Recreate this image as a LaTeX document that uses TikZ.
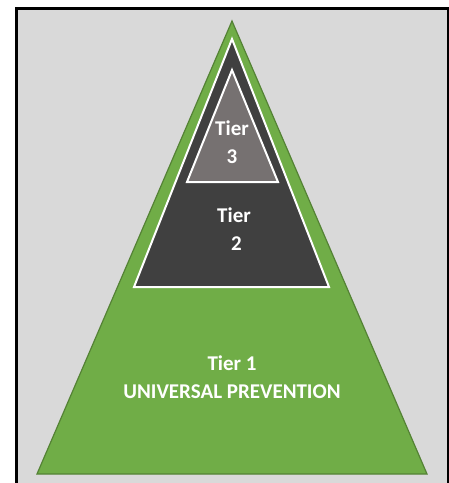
\documentclass[tikz,border=0pt]{standalone}
\usepackage{fontspec}
\setmainfont{Carlito}
\usepackage{xcolor}
\usepackage{tikz}

\definecolor{tiergreen}{HTML}{70AD47}
\definecolor{tiergreenline}{HTML}{548235}
\definecolor{tierdark}{HTML}{404040}
\definecolor{tiergray}{HTML}{767171}
\definecolor{panelgray}{HTML}{D9D9D9}

\tikzset{
  tierlabel/.style={text=white, font=\fontsize{21}{28}\selectfont\bfseries, align=center, inner sep=0pt},
  tierline/.style={draw=white, line width=2pt, line join=miter}
}

\begin{document}
\begin{tikzpicture}[x=1pt, y=-1pt]
\useasboundingbox (0,0) rectangle (449,483);
\fill[panelgray] (16,8) rectangle (448,483);
\draw[line width=3pt] (16,483) -- (16,8) -- (448,8) -- (448,483);

% tier 1
\filldraw[fill=tiergreen, draw=tiergreenline, line width=1.2pt] (232,21) -- (427,474) -- (37,474) -- cycle;
% tier 2
\filldraw[tierline, fill=tierdark] (232,39) -- (329,287) -- (134,287) -- cycle;
% tier 3
\filldraw[tierline, fill=tiergray] (232,70) -- (278,182) -- (187,182) -- cycle;

\node[tierlabel] (tier3) at (232,142) {Tier\\3};
\node[tierlabel] (tier2) at (234,229) {Tier\\\ 2};
\node[tierlabel] (tier1) at (232,377) {Tier 1\\UNIVERSAL PREVENTION};
\end{tikzpicture}
\end{document}
